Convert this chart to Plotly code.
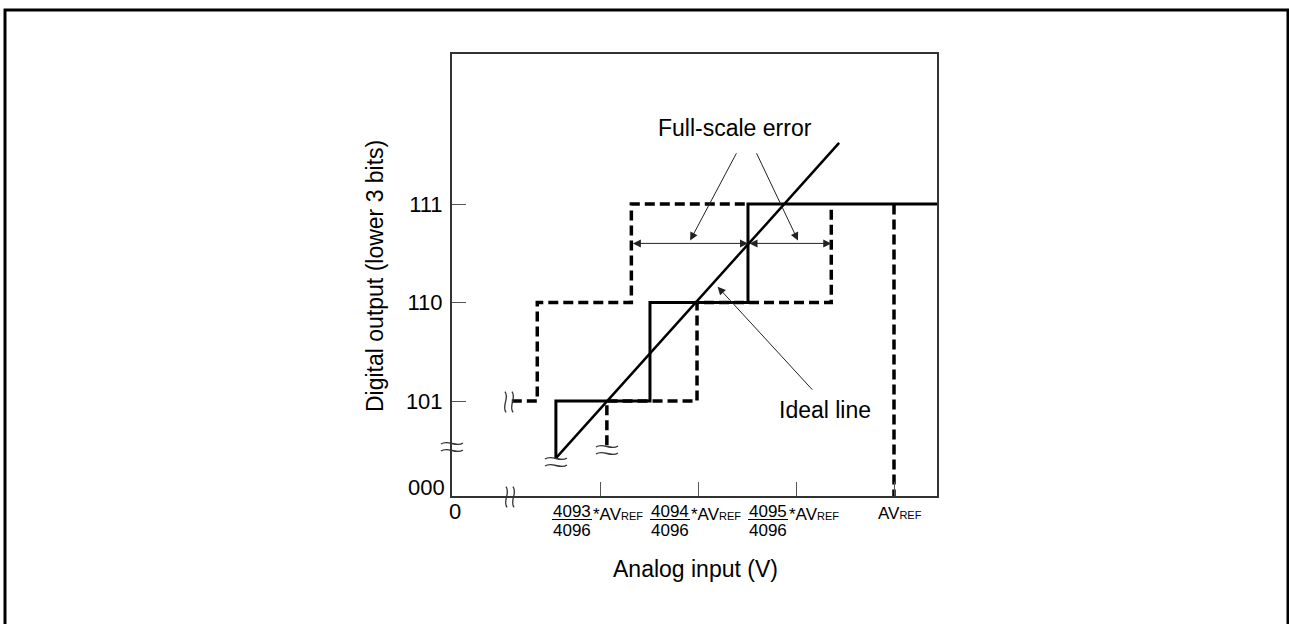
import plotly.graph_objects as go

# x in LSB code units (4096 = AVREF), y in output code units (101=5, 110=6, 111=7)
solid_x = [4092.55, 4092.55, 4093.51, 4093.51, 4094.51, 4094.51, 4096.45]
solid_y = [4.42, 5, 5, 6, 6, 7, 7]

dash_a_x = [4092.10, 4092.36, 4092.36, 4093.32, 4093.32, 4094.51]
dash_a_y = [5, 5, 6, 6, 7, 7]

dash_b_x = [4093.07, 4093.07, 4093.99, 4093.99, 4095.36, 4095.36]
dash_b_y = [4.55, 5, 5, 6, 6, 7]

avref_x = [4096, 4096]
avref_y = [4.0, 7]

ideal_x = [4092.55, 4095.44]
ideal_y = [4.42, 7.62]

y_ticks = [5, 6, 7]
y_labels = ["101", "110", "111"]
x_ticks = [4093, 4094, 4095, 4096]
x_nums = ["4093", "4094", "4095"]

FONT = "Liberation Sans, Arial, sans-serif"

# plot area in pixels
L, R, T, B = 452, 937, 54, 496
W, H = 1289, 624


def px(x):
    return (x - L) / (R - L)


def py(y):
    return (B - y) / (B - T)


def squiggle(cx, cy, vertical=False):
    # two wavy strokes, like a break mark
    out = []
    for off in (-3.5, 3.5):
        pts = []
        for u, v in [(-11, 1), (-4, -8), (4, 8), (11, -1)]:
            if vertical:
                x, y = cx + off + v * 0.55, cy - u * 0.95
            else:
                x, y = cx + u, cy + off + v * 0.55
            pts.append((px(x), py(y)))
        p = "M {},{} C {},{} {},{} {},{}".format(*[c for pt in pts for c in pt])
        out.append(dict(type="path", xref="paper", yref="paper", path=p,
                        line=dict(color="#333", width=1.3)))
    return out


fig = go.Figure()

dash = "10px,5px"
fig.add_trace(go.Scatter(x=dash_a_x, y=dash_a_y, mode="lines",
                         line=dict(color="black", width=3.5, dash=dash)))
fig.add_trace(go.Scatter(x=dash_b_x, y=dash_b_y, mode="lines",
                         line=dict(color="black", width=3.5, dash=dash)))
fig.add_trace(go.Scatter(x=avref_x, y=avref_y, mode="lines",
                         line=dict(color="black", width=3.5, dash=dash)))
fig.add_trace(go.Scatter(x=solid_x, y=solid_y, mode="lines",
                         line=dict(color="black", width=3)))
fig.add_trace(go.Scatter(x=ideal_x, y=ideal_y, mode="lines",
                         line=dict(color="black", width=2.5)))

ann = []

# full-scale error dimension arrows
arr_y = 6.60
for x0, x1 in [(4093.32, 4094.51), (4094.51, 4095.36)]:
    ann.append(dict(x=x1, y=arr_y, ax=x0, ay=arr_y, xref="x", yref="y",
                    axref="x", ayref="y", showarrow=True, arrowhead=2,
                    arrowside="end+start", arrowsize=1.6, arrowwidth=1,
                    arrowcolor="#222", text=""))

# pointers
for (tx, ty), (hx, hy) in [((4094.40, 7.53), (4093.92, 6.63)),
                           ((4094.59, 7.53), (4095.02, 6.63)),
                           ((4095.18, 5.10), (4094.20, 6.16))]:
    ann.append(dict(x=hx, y=hy, ax=tx, ay=ty, xref="x", yref="y",
                    axref="x", ayref="y", showarrow=True, arrowhead=2,
                    arrowsize=1.6, arrowwidth=1, arrowcolor="#222", text=""))

txt = dict(showarrow=False, xref="paper", yref="paper", xanchor="center",
           yanchor="middle", font=dict(family=FONT, size=23, color="black"))
ann.append(dict(text="Full-scale error", x=px(735), y=py(128), **txt))
ann.append(dict(text="Ideal line", x=px(825), y=py(410), **txt))
ann.append(dict(text="Analog input (V)", x=px(695), y=py(569), **txt))
ann.append(dict(text="Digital output (lower 3 bits)", x=px(375), y=py(276),
                textangle=-90, **txt))
ann.append(dict(text="000", x=px(426), y=py(487),
                **{**txt, "font": dict(family=FONT, size=22, color="black")}))
ann.append(dict(text="0", x=px(455), y=py(511),
                **{**txt, "font": dict(family=FONT, size=22, color="black")}))

# x tick labels as fractions
small = dict(showarrow=False, yref="paper", xref="x", yanchor="middle",
             font=dict(family=FONT, size=17, color="black"))
shapes = []
for t, n in zip(x_ticks[:3], x_nums):
    cx = t - 28 / 98
    ann.append(dict(text=n, x=cx, y=py(511), xanchor="center", **small))
    ann.append(dict(text="4096", x=cx, y=py(530), xanchor="center", **small))
    ann.append(dict(text="*AV<span style='font-size:11px'>REF</span>",
                    x=cx + 19 / 98, y=py(514), xanchor="left", **small))
    shapes.append(dict(type="line", xref="x", yref="paper",
                       x0=cx - 20 / 98, x1=cx + 20 / 98,
                       y0=py(519.5), y1=py(519.5),
                       line=dict(color="black", width=1)))
ann.append(dict(text="AV<span style='font-size:11px'>REF</span>",
                x=x_ticks[3] + 6 / 98, y=py(513), xanchor="center", **small))

# break marks
for bx, by, vert in [(452, 447, False), (556, 462, False), (607, 450, False),
                     (509, 402, True), (510, 497, True)]:
    shapes += squiggle(bx, by, vert)

# outer frame
shapes.append(dict(type="rect", xref="paper", yref="paper",
                   x0=px(5), x1=px(1288), y0=py(640), y1=py(10),
                   line=dict(color="black", width=3)))

fig.update_layout(
    width=W, height=H, autosize=False,
    margin=dict(l=L, r=W - R, t=T, b=H - B),
    plot_bgcolor="white", paper_bgcolor="white",
    showlegend=False,
    annotations=ann, shapes=shapes,
    xaxis=dict(range=[4093 - 148 / 98, 4093 + 337 / 98], showgrid=False,
               zeroline=False, showline=True, mirror=True, linecolor="#333",
               linewidth=2, ticks="inside", ticklen=14, tickcolor="#555",
               tickvals=x_ticks, showticklabels=False),
    yaxis=dict(range=[5 - 95 / 98.5, 7 + 150 / 98.5], showgrid=False,
               zeroline=False, showline=True, mirror=True, linecolor="#333",
               linewidth=2, ticks="inside", ticklen=14, tickcolor="#555",
               tickvals=y_ticks, ticktext=y_labels, ticklabelstandoff=3,
               tickfont=dict(family=FONT, size=22, color="black")),
)

fig.write_html("out.html", config={"displayModeBar": False},
               post_script="document.body.style.margin='0';document.body.style.overflow='hidden';")
